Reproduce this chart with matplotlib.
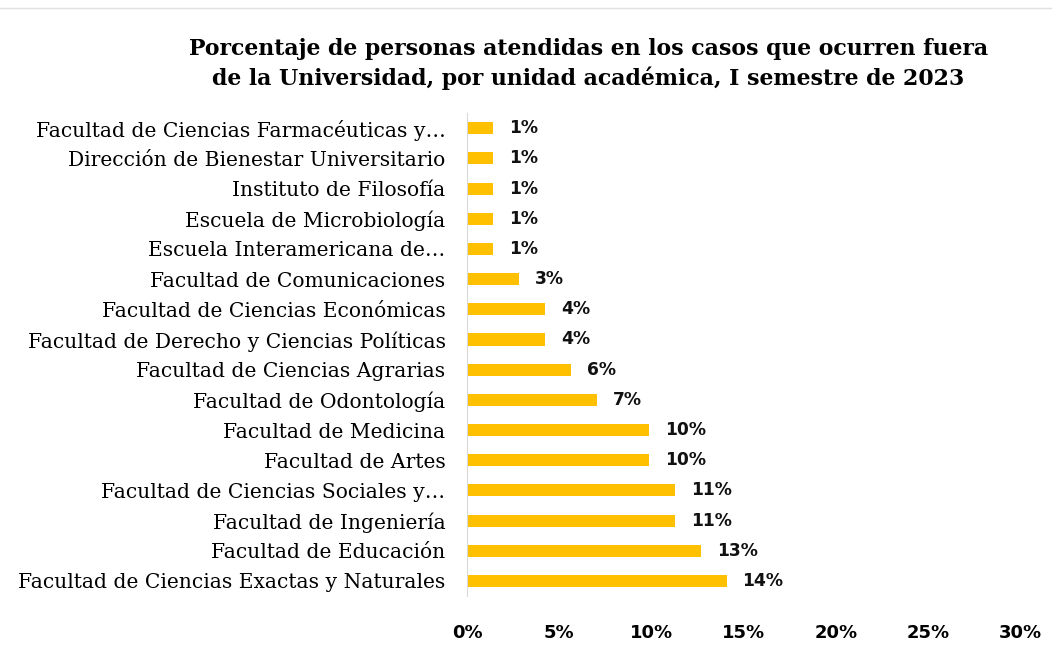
import numpy as np
import matplotlib
matplotlib.use("Agg")
import matplotlib.pyplot as plt
from matplotlib.ticker import FuncFormatter

# categories top -> bottom as drawn
units = [
    "Facultad de Ciencias Farmacéuticas y…",
    "Dirección de Bienestar Universitario",
    "Instituto de Filosofía",
    "Escuela de Microbiología",
    "Escuela Interamericana de…",
    "Facultad de Comunicaciones",
    "Facultad de Ciencias Económicas",
    "Facultad de Derecho y Ciencias Políticas",
    "Facultad de Ciencias Agrarias",
    "Facultad de Odontología",
    "Facultad de Medicina",
    "Facultad de Artes",
    "Facultad de Ciencias Sociales y…",
    "Facultad de Ingeniería",
    "Facultad de Educación",
    "Facultad de Ciencias Exactas y Naturales",
]
pct = [1.41, 1.41, 1.41, 1.41, 1.41, 2.82, 4.23, 4.23, 5.63, 7.04,
       9.86, 9.86, 11.27, 11.27, 12.68, 14.08]
xticks = [0, 5, 10, 15, 20, 25, 30]

title = ("Porcentaje de personas atendidas en los casos que ocurren fuera\n"
         "de la Universidad, por unidad académica, I semestre de 2023")

fig = plt.figure(figsize=(10.52, 6.5), dpi=100)
ax = fig.add_axes([0.444, 0.083, 0.526, 0.743])

y = np.arange(len(units))
ax.barh(y, pct, height=0.4, color="#FFC000")
ax.set_ylim(len(units) - 0.5, -0.5)
ax.set_xlim(0, 30)

for yi, v in zip(y, pct):
    ax.text(v + 0.85, yi, f"{round(v):.0f}%", va="center", ha="left",
            fontsize=12.3, fontweight="bold", family="DejaVu Sans", color="#111111")

ax.set_yticks(y)
ax.set_yticklabels(units, family="DejaVu Serif", fontsize=14.6, color="#000000")
ax.tick_params(axis="y", length=0, pad=15.5)
ax.set_xticks(xticks)
ax.xaxis.set_major_formatter(FuncFormatter(lambda v, p: f"{v:.0f}%"))
for lbl in ax.get_xticklabels():
    lbl.set_fontweight("bold")
    lbl.set_family("DejaVu Sans")
    lbl.set_fontsize(13)
    lbl.set_color("#000000")
ax.tick_params(axis="x", length=0, pad=20)

for s in ["top", "right", "bottom"]:
    ax.spines[s].set_visible(False)
ax.spines["left"].set_color("#d9d9d9")

fig.text(0.559, 0.902, title, ha="center", va="center", family="DejaVu Serif",
         fontweight="bold", fontsize=15.8, linespacing=1.35)

# light chart-area border at the top
fig.add_artist(plt.Line2D([0, 1], [0.988, 0.988], color="#e0e0e0", lw=1))

fig.savefig("out.png", dpi=100)
